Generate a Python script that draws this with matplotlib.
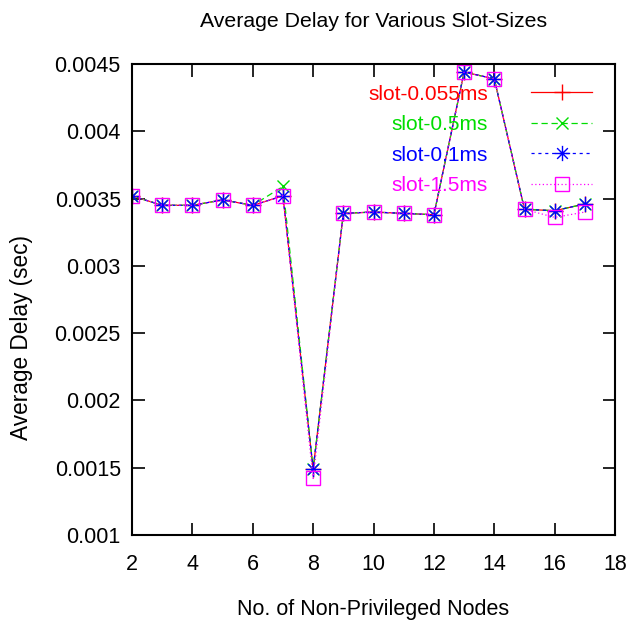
import matplotlib
matplotlib.use("Agg")
import matplotlib.pyplot as plt
from matplotlib.path import Path

plt.rcParams['font.family'] = ['Liberation Sans', 'DejaVu Sans']

nodes = [2, 3, 4, 5, 6, 7, 8, 9, 10, 11, 12, 13, 14, 15, 16, 17]
slot_0055 = [0.00352, 0.00345, 0.00345, 0.00349, 0.00345, 0.00352, 0.00149, 0.00339, 0.00340, 0.00339, 0.00338, 0.00444, 0.00439, 0.00342, 0.00341, 0.00346]
slot_05   = [0.00352, 0.00345, 0.00345, 0.00349, 0.00345, 0.00359, 0.00149, 0.00339, 0.00340, 0.00339, 0.00338, 0.00444, 0.00439, 0.00342, 0.00341, 0.00346]
slot_01   = [0.00352, 0.00345, 0.00345, 0.00349, 0.00345, 0.00352, 0.00149, 0.00339, 0.00340, 0.00339, 0.00338, 0.00444, 0.00439, 0.00342, 0.00341, 0.00346]
slot_15   = [0.00352, 0.00345, 0.00345, 0.00349, 0.00345, 0.00352, 0.00142, 0.00339, 0.00340, 0.00339, 0.00338, 0.00444, 0.00439, 0.00342, 0.00336, 0.00340]
labels = ['slot-0.055ms', 'slot-0.5ms', 'slot-0.1ms', 'slot-1.5ms']
xticks = [2, 4, 6, 8, 10, 12, 14, 16, 18]
yticks = [0.001, 0.0015, 0.002, 0.0025, 0.003, 0.0035, 0.004, 0.0045]
ytick_labels = ['0.001', '0.0015', '0.002', '0.0025', '0.003', '0.0035', '0.004', '0.0045']

star = Path([(-1, 0), (1, 0), (0, -1), (0, 1), (-0.7, -0.7), (0.7, 0.7), (-0.7, 0.7), (0.7, -0.7)],
            [Path.MOVETO, Path.LINETO] * 4)

fig = plt.figure(figsize=(6.27, 6.30), dpi=100)
ax = fig.add_axes([0.2105, 0.1508, 0.7705, 0.7476])

lw = 0.9
ax.plot(nodes, slot_0055, color='#ff0000', ls='-', lw=lw, marker='+', ms=11, mew=1.0, label=labels[0])
ax.plot(nodes, slot_05, color='#00dd00', ls=(0, (5, 3)), lw=lw, marker='x', ms=8, mew=1.0, label=labels[1])
ax.plot(nodes, slot_01, color='#0000ff', ls=(0, (2.5, 3)), lw=lw, marker=star, ms=11, mew=1.0, label=labels[2])
ax.plot(nodes, slot_15, color='#ff00ff', ls=(0, (1, 2)), lw=lw, marker='s', ms=10, mew=1.0, mfc='none', label=labels[3])

ax.set_xlim(2, 18)
ax.set_ylim(0.001, 0.0045)
ax.set_xticks(xticks)
ax.set_xticklabels([str(v) for v in xticks])
ax.set_yticks(yticks)
ax.set_yticklabels(ytick_labels)
ax.tick_params(direction='in', length=9, width=1.2, top=True, right=True, labelsize=15.5, pad=8)
ax.tick_params(axis='x', pad=14)
for s in ax.spines.values():
    s.set_linewidth(1.5)

ax.set_title('Average Delay for Various Slot-Sizes', fontsize=15.3, pad=27)
ax.set_xlabel('No. of Non-Privileged Nodes', fontsize=15.5, labelpad=17)
ax.set_ylabel('Average Delay (sec)', fontsize=16.3)
ax.yaxis.set_label_coords(-0.204, 0.42)

leg = ax.legend(loc='upper right', markerfirst=False, frameon=False, fontsize=15,
                labelcolor='linecolor', handlelength=2.9, handletextpad=2.1,
                borderaxespad=0, borderpad=0, labelspacing=0.55,
                bbox_to_anchor=(0.952, 0.956))
for t in leg.get_texts():
    t.set_ha('right')

fig.savefig('out.png', dpi=100)
